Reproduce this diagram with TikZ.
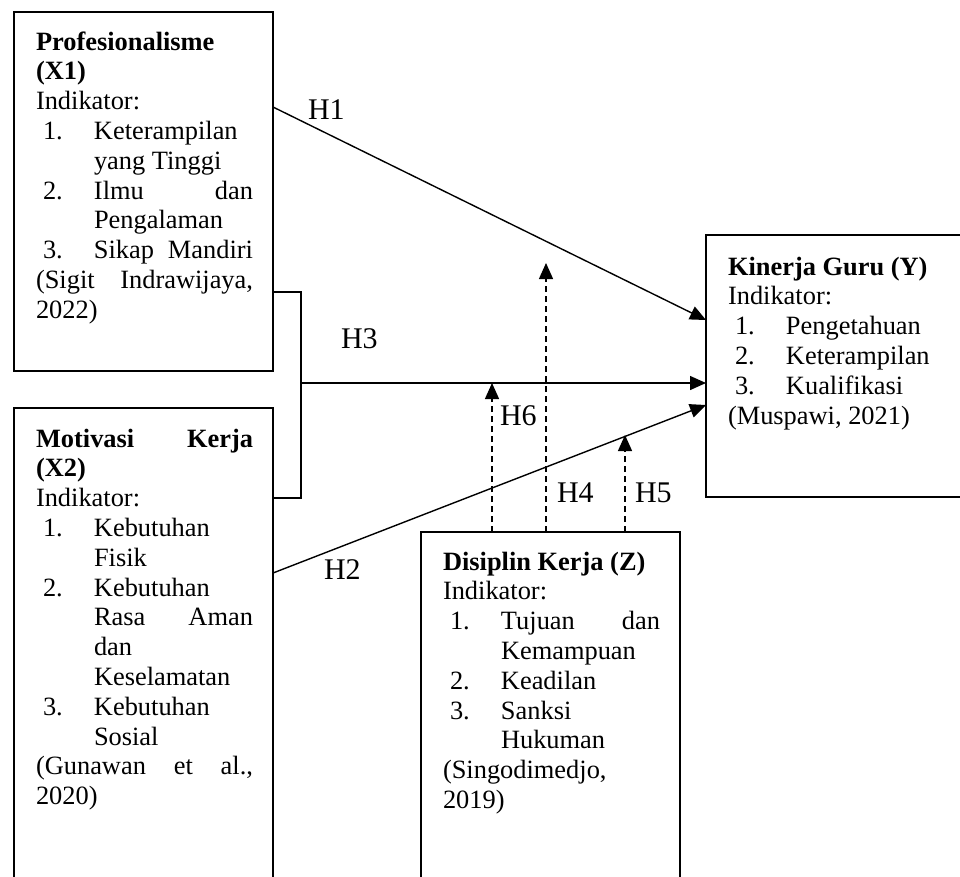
\documentclass[tikz,border=0pt]{standalone}
\usepackage{fontspec}
\setmainfont{Liberation Serif}
\usetikzlibrary{arrows.meta,calc}
\def\TW{217pt}
\newcommand\LL[1]{\hbox to \TW{#1\hfil}}
\newcommand\LJ[1]{\hbox to \TW{#1}}
\newcommand\LI[2]{\hbox to \TW{\hbox to 58pt{\hskip 7pt #1\hfil}#2\hfil}}
\newcommand\LIJ[2]{\hbox to \TW{\hbox to 58pt{\hskip 7pt #1\hfil}#2}}
\newcommand\LC[1]{\hbox to \TW{\hskip 58pt #1\hfil}}
\newcommand\LCJ[1]{\hbox to \TW{\hskip 58pt #1}}
\newcommand\TBlock[1]{\vtop{\baselineskip=29.8pt\lineskiplimit=-60pt\lineskip=0pt #1}}
\begin{document}
\begin{tikzpicture}[x=1pt,y=-1pt,
  box/.style={draw, line width=2.9pt, inner sep=0pt, outer sep=0pt, anchor=north west},
  txt/.style={font=\fontsize{26.4}{29.8}\selectfont, inner sep=0pt, outer sep=0pt, anchor=base west},
  hlab/.style={font=\fontsize{30}{34}\selectfont, inner sep=0pt, outer sep=0pt, anchor=base west},
  conn/.style={line width=1.4pt},
  arr/.style={conn, -{Triangle[length=16pt,width=14pt]}},
  darr/.style={arr, dash pattern=on 6pt off 4pt}]
\useasboundingbox (0,0) rectangle (960,876);
\clip (0,0) rectangle (960,876);

% boxes
\node[box, minimum width=259pt, minimum height=359pt] (x1) at (14,12) {};
\node[box, minimum width=259pt, minimum height=500pt] (x2) at (14,408) {};
\node[box, minimum width=300pt, minimum height=262pt] (y) at (706,235) {};
\node[box, minimum width=259pt, minimum height=400pt] (z) at (421,532) {};

% texts
\node[txt] (x1t) at ($(x1.north west)+(22,38)$) {\TBlock{%
  \LL{\bfseries Profesionalisme}
  \LL{\bfseries (X1)}
  \LL{Indikator:}
  \LI{1.}{Keterampilan}
  \LC{yang Tinggi}
  \LIJ{2.}{Ilmu\hfill dan}
  \LC{Pengalaman}
  \LIJ{3.}{Sikap\hfill Mandiri}
  \LJ{(Sigit\hfill Indrawijaya,}
  \LL{2022)}}};

\node[txt] (x2t) at ($(x2.north west)+(22,39)$) {\TBlock{%
  \LJ{\bfseries Motivasi\hfill Kerja}
  \LL{\bfseries (X2)}
  \LL{Indikator:}
  \LI{1.}{Kebutuhan}
  \LC{Fisik}
  \LI{2.}{Kebutuhan}
  \LCJ{Rasa\hfill Aman}
  \LC{dan}
  \LC{Keselamatan}
  \LI{3.}{Kebutuhan}
  \LC{Sosial}
  \LJ{(Gunawan\hfill et\hfill al.,}
  \LL{2020)}}};

\node[txt] (zt) at ($(z.north west)+(22,38)$) {\TBlock{%
  \LL{\bfseries Disiplin Kerja (Z)}
  \LL{Indikator:}
  \LIJ{1.}{Tujuan\hfill dan}
  \LC{Kemampuan}
  \LI{2.}{Keadilan}
  \LI{3.}{Sanksi}
  \LC{Hukuman}
  \LL{(Singodimedjo,}
  \LL{2019)}}};

\node[txt] (yt) at ($(y.north west)+(22,40)$) {\TBlock{%
  \LL{\bfseries Kinerja Guru (Y)}
  \LL{Indikator:}
  \LI{1.}{Pengetahuan}
  \LI{2.}{Keterampilan}
  \LI{3.}{Kualifikasi}
  \LL{(Muspawi, 2021)}}};

% connectors
\draw[arr] ($(x1.north east)+(0,95)$) -- ($(y.north west)+(0,85)$);
\draw[conn] ($(x1.north east)+(0,280)$) -- ++(28,0) coordinate (br)
  -- ($(x2.north east)+(28,90)$) -- ($(x2.north east)+(0,90)$);
\draw[arr] ($(br)+(0,91)$) -- ($(y.north west)+(0,148)$);
\draw[arr] ($(x2.north east)+(0,165)$) -- ($(y.north west)+(0,170)$);
\draw[darr] ($(z.north west)+(71,0)$) -- ($(z.north west)+(71,-149)$);
\draw[darr] ($(z.north west)+(125,0)$) -- ($(z.north west)+(125,-269)$);
\draw[darr] ($(z.north west)+(204,0)$) -- ($(z.north west)+(204,-97)$);

% labels
\node[hlab] (h1) at (308,119) {H1};
\node[hlab] (h3) at (341,348) {H3};
\node[hlab] (h6) at (500,425) {H6};
\node[hlab] (h4) at (557,502) {H4};
\node[hlab] (h5) at (635,502) {H5};
\node[hlab] (h2) at (324,579) {H2};
\end{tikzpicture}
\end{document}
